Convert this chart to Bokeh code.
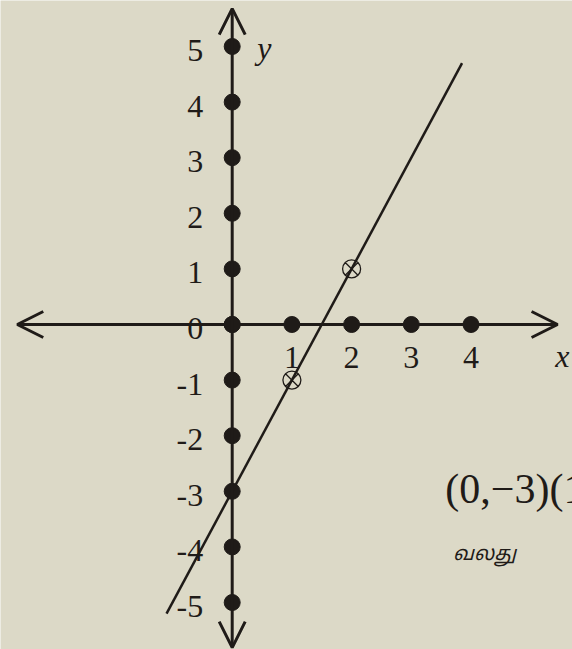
from bokeh.plotting import figure
from bokeh.models import Range1d, Arrow, OpenHead
from bokeh.core.properties import value
from bokeh.embed import file_html
from bokeh.resources import INLINE

# ---- data ----
x_dot_vals = [0, 1, 2, 3, 4]
y_dot_vals = [5, 4, 3, 2, 1, 0, -1, -2, -3, -4, -5]
x_tick_vals = [1, 2, 3, 4]
x_tick_labels = ["1", "2", "3", "4"]
y_tick_vals = [5, 4, 3, 2, 1, 0, -1, -2, -3, -4, -5]
y_tick_labels = ["5", "4", "3", "2", "1", "0", "-1", "-2", "-3", "-4", "-5"]
line_x = [-1.1, 3.85]          # graph of y = 2x - 3
line_y = [-5.2, 4.7]
marked_x = [1, 2]
marked_y = [-1, 1]
x_axis_ends = [-3.6, 5.45]
y_axis_ends = [-5.81, 5.68]
caption_pts = "(0,\u22123)(1"
caption_ta = "வலது"

INK = "#1f1b18"
BG = "#dcd9c7"

p = figure(width=572, height=649,
           x_range=Range1d(-3.881, 5.700), y_range=Range1d(-5.845, 5.827),
           output_backend="svg", toolbar_location=None, min_border=0)
p.axis.visible = False
p.grid.visible = False
p.outline_line_color = None
p.background_fill_color = BG
p.border_fill_color = BG

# axes with open arrowheads
for xs, ys, xe, ye in [(x_axis_ends[0], 0, x_axis_ends[1], 0),
                       (0, y_axis_ends[0], 0, y_axis_ends[1])]:
    p.add_layout(Arrow(x_start=xs, y_start=ys, x_end=xe, y_end=ye,
                       start=OpenHead(size=26, line_width=3, line_color=INK),
                       end=OpenHead(size=26, line_width=3, line_color=INK),
                       line_width=3, line_color=INK))

# integer dots on the axes
p.scatter(x=x_dot_vals, y=[0] * len(x_dot_vals), size=16, color=INK)
p.scatter(x=[0] * len(y_dot_vals), y=y_dot_vals, size=16, color=INK)

# graph line
p.line(line_x, line_y, line_width=2.5, color=INK)

# marked points
p.scatter(marked_x, marked_y, marker="circle_x", size=18, fill_color=None,
          line_color=INK, line_width=1.3)

serif = value("Liberation Serif")

# tick labels
p.text(x=[0] * len(y_tick_vals), y=y_tick_vals, text=y_tick_labels,
       text_font=serif, text_font_size="32px", text_color=INK,
       text_align="right", text_baseline="middle", x_offset=-29, y_offset=4)
p.text(x=x_tick_vals, y=[0] * len(x_tick_vals), text=x_tick_labels,
       text_font=serif, text_font_size="32px", text_color=INK,
       text_align="center", text_baseline="middle", y_offset=33)

# axis names
p.text(x=[5.53], y=[0], text=["x"], text_font=serif, text_font_size="32px",
       text_font_style="italic", text_color=INK, text_align="center",
       text_baseline="middle", y_offset=32)
p.text(x=[0], y=[5], text=["y"], text_font=serif, text_font_size="32px",
       text_font_style="italic", text_color=INK, text_align="left",
       text_baseline="middle", x_offset=25, y_offset=2)

# caption texts (partially cut off at right edge in the source)
p.text(x=[3.57], y=[-3], text=[caption_pts], text_font=serif, text_font_size="42px",
       text_color=INK, text_align="left", text_baseline="middle", y_offset=-2)
p.text(x=[3.70], y=[-4.15], text=[caption_ta],
       text_font=value("Noto Sans Tamil"), text_font_size="20px",
       text_font_style="italic", text_color=INK, text_align="left",
       text_baseline="middle")

open("out.html", "w").write(file_html(p, INLINE))
